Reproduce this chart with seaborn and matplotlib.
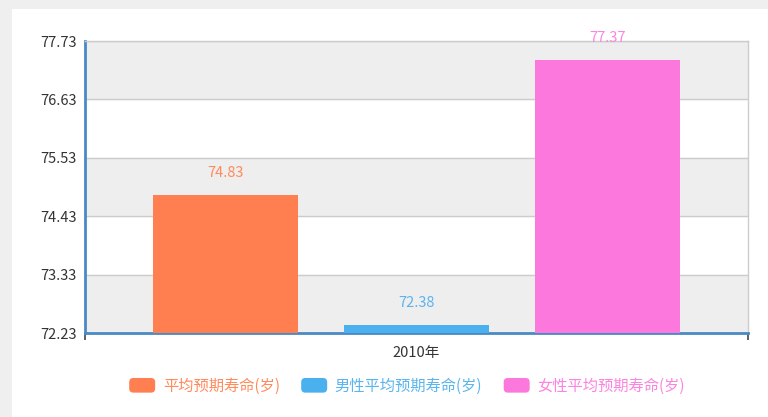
import matplotlib
matplotlib.use("Agg")
import matplotlib.pyplot as plt
import seaborn as sns
import pandas as pd
from matplotlib.patches import Patch, FancyBboxPatch, Rectangle
from matplotlib.legend_handler import HandlerPatch

# data
years = ["2010年"]
series = ["平均预期寿命(岁)", "男性平均预期寿命(岁)", "女性平均预期寿命(岁)"]
values = [74.83, 72.38, 77.37]
yticks = [72.23, 73.33, 74.43, 75.53, 76.63, 77.73]

bar_colors = ["#ff7f50", "#4ab0ee", "#fc78dd"]
text_colors = ["#ff8a5c", "#5ab4ee", "#fb84e0"]

sns.set_theme(style="white")
plt.rcParams["font.family"] = ["Noto Sans CJK SC", "DejaVu Sans"]

df = pd.DataFrame({"year": years * len(series), "series": series, "value": values})

fig = plt.figure(figsize=(7.68, 4.17), dpi=100, facecolor="#efefef")
# white card over the grey page
fig.patches.append(Rectangle((12 / 768, 0), 1, 1 - 9 / 417, transform=fig.transFigure,
                             facecolor="white", edgecolor="none", zorder=-10))
ax = fig.add_axes([85 / 768, 84 / 417, 663 / 768, 292 / 417])
ax.set_facecolor("white")

sns.barplot(data=df, x="year", y="value", hue="series", palette=bar_colors,
            width=0.864, gap=0.236, saturation=1, linewidth=0,
            ax=ax, legend=False, zorder=3)

ax.set_xlim(-0.5, 0.5)
ax.set_ylim(yticks[0], yticks[-1])

# alternating bands + grid lines
for i in range(len(yticks) - 1):
    if i % 2 == 0:
        ax.axhspan(yticks[i], yticks[i + 1], color="#eeeeee", zorder=0)
for y in yticks[1:]:
    ax.axhline(y, color="#cccccc", lw=1, zorder=1)

ax.set_yticks(yticks)
ax.set_yticklabels([f"{t:.2f}" for t in yticks], fontsize=10.5, color="#333333")
ax.set_xticks([0])
ax.set_xticklabels(years, fontsize=10.5, color="#333333")
ax.tick_params(axis="x", which="major", length=0, pad=9)
ax.tick_params(axis="y", length=0, pad=6)
ax.set_xticks([-0.5, 0.5], minor=True)
ax.tick_params(axis="x", which="minor", bottom=True, length=5, width=1.2,
               color="#444444", direction="out")
ax.set_xlabel("")
ax.set_ylabel("")

for s in ["top", "right"]:
    ax.spines[s].set_color("#cccccc")
    ax.spines[s].set_linewidth(1)
for s in ["left", "bottom"]:
    ax.spines[s].set_color("#4a8ac4")
    ax.spines[s].set_linewidth(2)

# value labels
for bar, v, c in zip(ax.patches, values, text_colors):
    ax.annotate(f"{v:.2f}", (bar.get_x() + bar.get_width() / 2, v),
                xytext=(0, 11), textcoords="offset points",
                ha="center", va="bottom", fontsize=10.5, color=c)


class RoundHandler(HandlerPatch):
    def create_artists(self, legend, orig_handle, xdescent, ydescent, width, height, fontsize, trans):
        p = FancyBboxPatch((-xdescent, -ydescent), width, height,
                           boxstyle="round,pad=0,rounding_size=3",
                           facecolor=orig_handle.get_facecolor(), edgecolor="none",
                           transform=trans)
        return [p]


handles = [Patch(facecolor=c) for c in bar_colors]
fig.legend(handles, series, loc="center", bbox_to_anchor=(407 / 768, 1 - 386 / 417),
           ncol=3, frameon=False, fontsize=11, labelcolor=text_colors,
           handler_map={Patch: RoundHandler()}, handlelength=1.7, handleheight=1.1,
           handletextpad=0.5, columnspacing=1.4)

fig.savefig("out.png", dpi=100, facecolor=fig.get_facecolor())
